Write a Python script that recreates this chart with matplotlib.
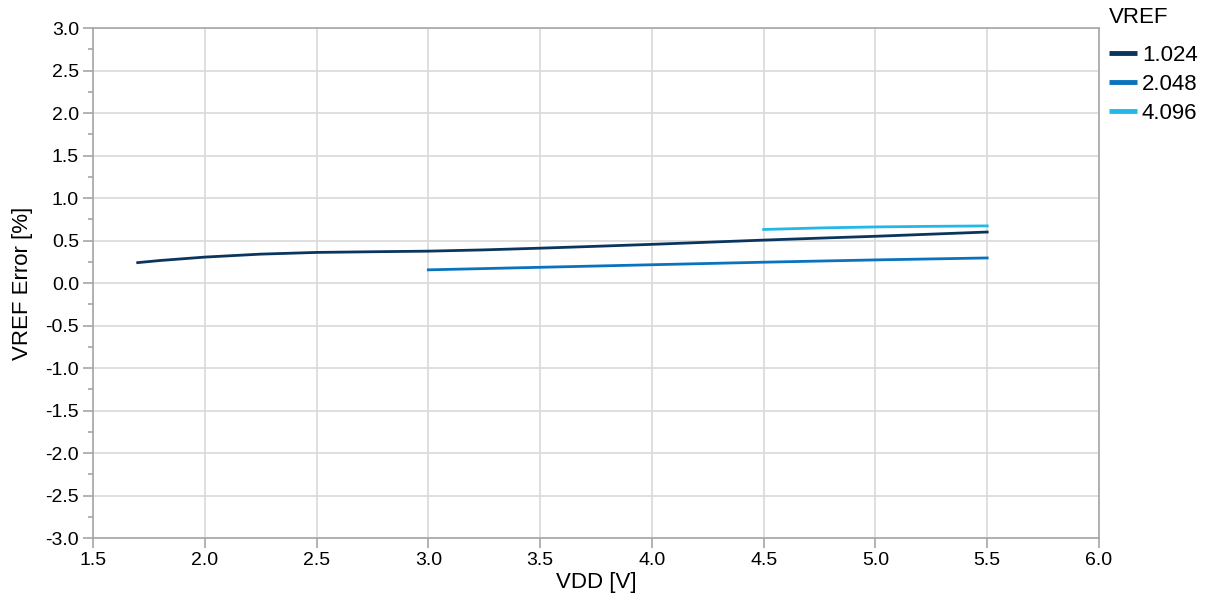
import numpy as np
import matplotlib.pyplot as plt
from matplotlib.ticker import MultipleLocator

plt.rcParams['font.family'] = ['Liberation Sans', 'DejaVu Sans']

# VREF = 1.024
vdd_1024 = [1.7, 1.8, 1.9, 2.0, 2.25, 2.5, 2.75, 3.0, 3.25, 3.5, 3.75, 4.0, 4.25, 4.5, 4.75, 5.0, 5.25, 5.5]
err_1024 = [0.24, 0.265, 0.285, 0.305, 0.34, 0.36, 0.368, 0.375, 0.39, 0.41, 0.432, 0.455, 0.48, 0.505, 0.528, 0.55, 0.575, 0.60]
# VREF = 2.048
vdd_2048 = [3.0, 3.5, 4.0, 4.5, 5.0, 5.5]
err_2048 = [0.155, 0.185, 0.215, 0.245, 0.272, 0.295]
# VREF = 4.096
vdd_4096 = [4.5, 4.75, 5.0, 5.25, 5.5]
err_4096 = [0.63, 0.648, 0.66, 0.667, 0.672]

labels = ['1.024', '2.048', '4.096']
colors = ['#0a355e', '#0a73bd', '#22b8e8']

fig = plt.figure(figsize=(12.11, 6.08), dpi=100)
ax = fig.add_axes([0.0768, 0.1151, 0.8307, 0.8388])

ax.plot(vdd_1024, err_1024, color=colors[0], lw=2.0, label=labels[0])
ax.plot(vdd_2048, err_2048, color=colors[1], lw=2.0, label=labels[1])
ax.plot(vdd_4096, err_4096, color=colors[2], lw=2.0, label=labels[2])

ax.set_xlim(1.5, 6.0)
ax.set_ylim(-3.0, 3.0)
ax.xaxis.set_major_locator(MultipleLocator(0.5))
ax.yaxis.set_major_locator(MultipleLocator(0.5))
ax.yaxis.set_minor_locator(MultipleLocator(0.25))
ax.xaxis.set_major_formatter(plt.FormatStrFormatter('%.1f'))
ax.yaxis.set_major_formatter(plt.FormatStrFormatter('%.1f'))

ax.grid(True, which='major', color='#d9d9d9', lw=1.2)
ax.set_axisbelow(True)
for s in ax.spines.values():
    s.set_color('#a6a6a6')
    s.set_linewidth(1.2)
ax.tick_params(which='major', length=7, width=1.2, color='#a6a6a6', labelsize=14, pad=3)
ax.tick_params(which='minor', length=3.6, width=1.2, color='#a6a6a6')

ax.set_xlabel('VDD [V]', fontsize=16, labelpad=2)
ax.set_ylabel('VREF Error [%]', fontsize=16, labelpad=9)

leg = ax.legend(title='VREF', loc='upper left', bbox_to_anchor=(0.994, 1.072),
                frameon=False, fontsize=16, title_fontsize=16, handlelength=1.3,
                handletextpad=0.2, labelspacing=0.36, borderaxespad=0.3)
leg._legend_box.align = 'left'
leg._legend_box.sep = 12
for h in leg.get_lines():
    h.set_linewidth(3.5)
    h.set_solid_capstyle('butt')

fig.savefig('out.png', dpi=100)
